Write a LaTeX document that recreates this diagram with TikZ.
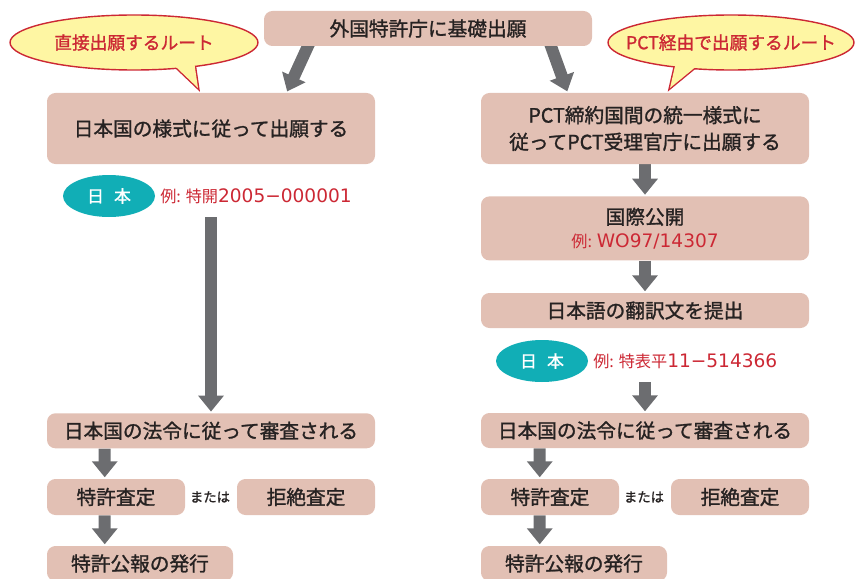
\documentclass[tikz,border=0pt]{standalone}
\usepackage{fontspec}
\setmainfont{Noto Sans CJK JP}
\newfontfamily\boxfont{Noto Sans CJK JP}[FakeBold=1.3]
\newfontfamily\numfont{DejaVu Sans}
\usepackage{tikz}
\usetikzlibrary{shapes,arrows.meta,calc,backgrounds}
\definecolor{mypink}{RGB}{226,192,180}
\definecolor{mygray}{RGB}{108,109,112}
\definecolor{myteal}{RGB}{17,174,182}
\definecolor{myred}{RGB}{204,40,52}
\definecolor{myyellow}{RGB}{254,246,163}
\definecolor{mytext}{RGB}{38,34,34}
\newcommand{\redno}[1]{{\numfont\fontsize{13.2}{14}\selectfont #1}}

\begin{document}
\begin{tikzpicture}

\tikzstyle{pink-b} = [fill=mypink, rounded corners=6, inner sep=0, text=mytext,
font=\boxfont\fontsize{14}{19}\selectfont, align=center]
\tikzstyle{bubble} = [ellipse, draw=myred, line width=1, fill=myyellow,
minimum width=6.2cm, minimum height=1.375cm, inner sep=0]
\tikzstyle{bubble_text} = [text=myred, font=\boxfont\fontsize{12.6}{15}\selectfont, inner sep=0]
\tikzstyle{bubble_tail} = [draw=myred, line width=2, fill=myyellow]
\tikzstyle{teal_oval} = [ellipse, fill=myteal, text=white, minimum width=2.3cm,
minimum height=1.05cm, inner sep=0, font=\boxfont\fontsize{12}{14}\selectfont]
\tikzstyle{red_text} = [text=myred, font=\fontsize{11.5}{14}\selectfont, inner sep=0]
\tikzstyle{or_text} = [text=mytext, font=\boxfont\fontsize{9.5}{12}\selectfont, inner sep=0]
\tikzstyle{big_arrow} = [draw=mygray, line width=0.3cm, shorten >=1pt,
-{Triangle[width=0.62cm,length=0.4cm]}]

\useasboundingbox (0,0) rectangle (21.4,14.45);


\node [pink-b, minimum width=8.2cm, minimum height=0.875cm] (top) at (10.7,13.7375) {外国特許庁に基礎出願};

% speech bubbles
\node [bubble] (lbub) at (3.35,13.3875) {};
\node [bubble_text] (lbubt) at (lbub) {直接出願するルート};
\coordinate (ltip) at (4.95,12.25);

\node [bubble, minimum width=6.15cm] (rbub) at (18.275,13.3875) {};
\node [bubble_text] (rbubt) at (rbub) {PCT経由で出願するルート};
\coordinate (rtip) at (16.75,12.25);

\begin{pgfonlayer}{background}
\filldraw [bubble_tail] ($(ltip)!1.2!(lbub.-31)$) -- (ltip) -- ($(ltip)!1.2!(lbub.-22)$);
\filldraw [bubble_tail] ($(rtip)!1.2!(rbub.204)$) -- (rtip) -- ($(rtip)!1.2!(rbub.215)$);
\end{pgfonlayer}
\fill [myyellow] ($(ltip)!1.2!(lbub.-31)$) -- (ltip) -- ($(ltip)!1.2!(lbub.-22)$) -- cycle;
\fill [myyellow] ($(rtip)!1.2!(rbub.204)$) -- (rtip) -- ($(rtip)!1.2!(rbub.215)$) -- cycle;

% left route
\node [pink-b, minimum width=8.2cm, minimum height=1.775cm] (lapp) at (5.275,11.2375) {日本国の様式に従って出願する};

\node [teal_oval] (ljp) at (2.725,9.55) {日\hspace{0.6em}本};
\node [red_text, anchor=west] (lno) at (4.0,9.55) {例: 特開\redno{2005−000001}};

\node [pink-b, minimum width=8.2cm, minimum height=0.875cm] (lexam) at (5.275,3.68) {日本国の法令に従って審査される};

\node [pink-b, minimum width=3.45cm, minimum height=0.9cm] (lgrant) at (2.9,2.025) {特許査定};
\node [or_text] (lor) at (5.25,2.025) {または};
\node [pink-b, minimum width=3.45cm, minimum height=0.9cm] (lrej) at (7.65,2.025) {拒絶査定};

\node [pink-b, minimum width=4.65cm, minimum height=0.875cm] (lgaz) at (3.5,0.3625) {特許公報の発行};

% PCT route
\node [pink-b, minimum width=8.2cm, minimum height=1.775cm] (rapp) at (16.125,11.2375) {PCT締約国間の統一様式に\\従ってPCT受理官庁に出願する};

\node [pink-b, minimum width=8.2cm, minimum height=1.6cm, font=\boxfont\fontsize{14}{16.5}\selectfont] (rpub) at (16.125,8.74) {国際公開\\{\color{myred}\normalfont\fontsize{11.5}{14}\selectfont 例: \redno{WO97/14307}}};

\node [pink-b, minimum width=8.2cm, minimum height=0.875cm] (rtr) at (16.125,6.6875) {日本語の翻訳文を提出};

\node [teal_oval] (rjp) at (13.55,5.425) {日\hspace{0.6em}本};
\node [red_text, anchor=west] (rno) at (14.825,5.425) {例: 特表平\redno{11−514366}};

\node [pink-b, minimum width=8.2cm, minimum height=0.875cm] (rexam) at (16.125,3.6875) {日本国の法令に従って審査される};

\node [pink-b, minimum width=3.45cm, minimum height=0.9cm] (rgrant) at (13.75,2.025) {特許査定};
\node [or_text] (ror) at (16.1,2.025) {または};
\node [pink-b, minimum width=3.45cm, minimum height=0.9cm] (rrej) at (18.5,2.025) {拒絶査定};

\node [pink-b, minimum width=4.65cm, minimum height=0.875cm] (rgaz) at (14.35,0.3625) {特許公報の発行};

\begin{pgfonlayer}{background}
\draw [big_arrow] ($(top.south west)!0.14!(top.south east)+(0,0.1)$) -- ($(lapp.north west)!0.73!(lapp.north east)$);
\draw [big_arrow] ($(top.south west)!0.87!(top.south east)+(0,0.1)$) -- ($(rapp.north west)!0.265!(rapp.north east)$);

\draw [big_arrow] (lapp.south |- ljp.south) -- (lexam.north);
\draw [big_arrow] ($(lexam.south west)+(1.45,0)$) -- ($(lgrant.north west)+(1.45,0)$);
\draw [big_arrow] ($(lgrant.south west)+(1.45,0)$) -- ($(lgaz.north west)+(1.45,0)$);

\draw [big_arrow] (rapp.south) -- (rpub.north);
\draw [big_arrow] (rpub.south) -- (rtr.north);
\draw [big_arrow] (rtr.south |- rjp.south) -- (rexam.north);
\draw [big_arrow] ($(rexam.south west)+(1.475,0)$) -- ($(rgrant.north west)+(1.475,0)$);
\draw [big_arrow] ($(rgrant.south west)+(1.475,0)$) -- ($(rgaz.north west)+(1.475,0)$);
\end{pgfonlayer}

\end{tikzpicture}
\end{document}
